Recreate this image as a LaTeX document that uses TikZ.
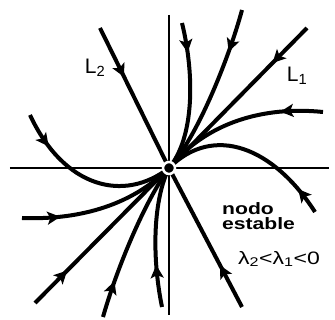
\documentclass[tikz,border=0pt]{standalone}
\usepackage{fontspec}
\setmainfont{Liberation Sans}
\newfontfamily\widesans[FakeStretch=1.28]{Liberation Sans}
\usetikzlibrary{arrows.meta,decorations.markings}
\tikzset{
  axis/.style={line width=1.6pt},
  orbit/.style={line width=4pt},
  flow/.style={decoration={markings, mark=at position #1 with {\arrow{Stealth[length=13pt,width=13pt,inset=3pt]}}}, postaction={decorate}},
  lbl/.style={font=\fontsize{21}{21}\selectfont, inner sep=0pt},
  note/.style={font=\widesans\bfseries\fontsize{16.5}{15}\selectfont, align=left, inner sep=0pt},
  cond/.style={font=\widesans\fontsize{18}{18}\selectfont, inner sep=0pt}
}
\begin{document}
\begin{tikzpicture}[x=1pt,y=1pt]
\useasboundingbox (-169,-152) rectangle (166,168);
\coordinate (O) at (0,0);
% axes
\draw[axis] (-159,0) -- (160,0);
\draw[axis] (0,153) -- (0,-147);
% eigenlines L1 and L2
\draw[orbit, flow=0.25] (138,140) -- (O);
\draw[orbit, flow=0.24] (-134,-135) -- (O);
\draw[orbit, flow=0.35] (-69,140) -- (O);
\draw[orbit, flow=0.3] (73,-139) -- (O);
% trajectories, tangent to L1 at the node
\draw[orbit, flow=0.2] (13,145) .. controls (26,92) and (25,30) .. (O);
\draw[orbit, flow=0.25] (73,158) .. controls (60,110) and (28,30) .. (O);
\draw[orbit, flow=0.25] (154,56) .. controls (95,62) and (38,46) .. (O);
\draw[orbit, flow=0.16] (146,-44) .. controls (105,20) and (45,45) .. (O);
\draw[orbit, flow=0.24] (-147,-50) .. controls (-95,-52) and (-40,-40) .. (O);
\draw[orbit, flow=0.21] (-139,53) .. controls (-105,-20) and (-45,-35) .. (O);
\draw[orbit, flow=0.23] (-66,-149) .. controls (-52,-100) and (-25,-35) .. (O);
\draw[orbit, flow=0.3] (-7,-139) .. controls (-18,-85) and (-15,-30) .. (O);
% node at the origin
\node[circle, fill=black, draw=white, line width=2.5pt, minimum size=12pt, inner sep=0pt] (dot) at (O) {};
% labels
\node[lbl] (l2) at (-74,100) {L\textsubscript{2}};
\node[lbl] (l1) at (128,92) {L\textsubscript{1}};
\node[note, anchor=west] (kind) at (53,-48) {nodo\\estable};
\node[cond, anchor=west] (eig) at (69,-91) {λ\textsubscript{2}<λ\textsubscript{1}<0};
\end{tikzpicture}
\end{document}
